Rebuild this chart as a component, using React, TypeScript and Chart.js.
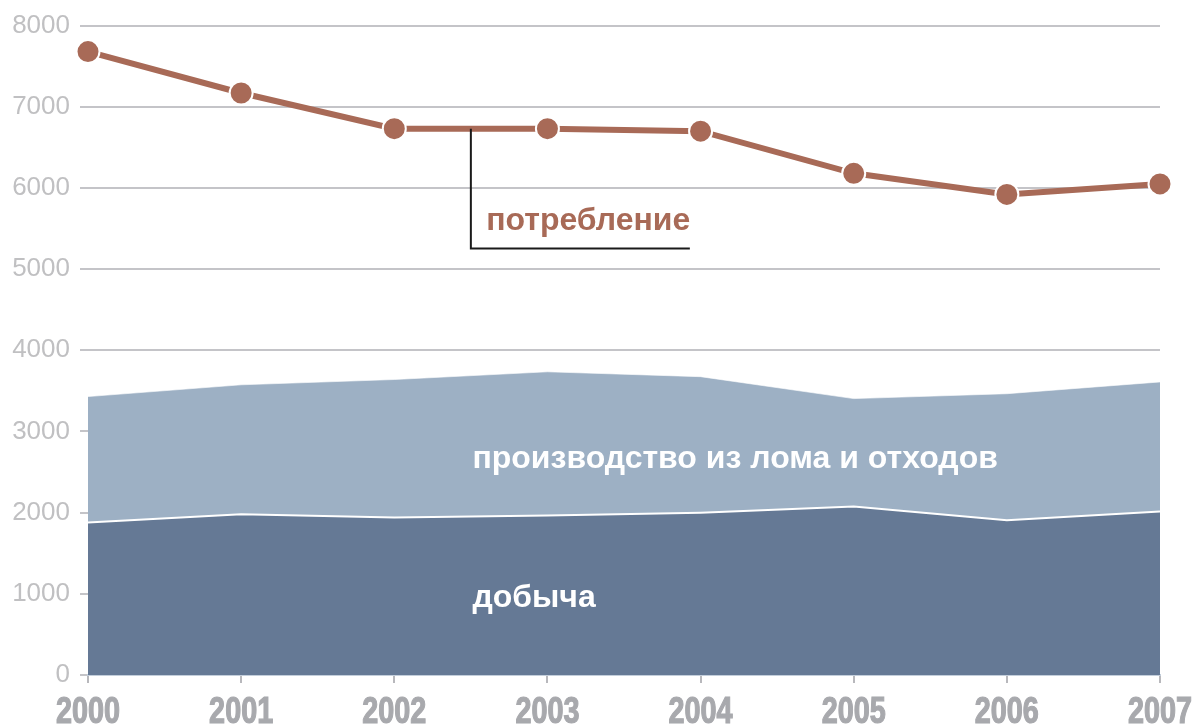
import React, { useEffect, useRef } from "react";
import { Chart, registerables } from "chart.js";

Chart.register(...registerables);

const years = [2000, 2001, 2002, 2003, 2004, 2005, 2006, 2007];
const mining = [1880, 1980, 1940, 1965, 2000, 2075, 1905, 2015];
const scrap = [1550, 1595, 1700, 1770, 1675, 1330, 1560, 1595];
const consumption = [7680, 7170, 6730, 6730, 6700, 6180, 5920, 6050];
const yTicks = [0, 1000, 2000, 3000, 4000, 5000, 6000, 7000, 8000];

const labelConsumption = "потребление";
const labelScrap = "производство из лома и отходов";
const labelMining = "добыча";

const COL_MINING = "#657995";
const COL_SCRAP = "#9db0c4";
const COL_LINE = "#a86a57";

const annotations = {
  id: "annotations",
  afterDatasetsDraw(chart: any) {
    const { ctx, scales } = chart;
    const x = scales.x;
    const y = scales.y;
    ctx.save();
    // bracket
    ctx.strokeStyle = "#1a1a1a";
    ctx.lineWidth = 2;
    ctx.beginPath();
    ctx.moveTo(x.getPixelForValue(2002.5), y.getPixelForValue(6730));
    ctx.lineTo(x.getPixelForValue(2002.5), y.getPixelForValue(5255));
    ctx.lineTo(x.getPixelForValue(2003.93), y.getPixelForValue(5255));
    ctx.stroke();
    ctx.textBaseline = "alphabetic";
    ctx.textAlign = "left";
    ctx.font = "bold 32px 'Liberation Sans', Arial, sans-serif";
    ctx.fillStyle = COL_LINE;
    ctx.fillText(labelConsumption, x.getPixelForValue(2002.6), y.getPixelForValue(5480));
    ctx.fillStyle = "#ffffff";
    ctx.fillText(labelScrap, x.getPixelForValue(2002.51), y.getPixelForValue(2545));
    ctx.fillText(labelMining, x.getPixelForValue(2002.51), y.getPixelForValue(835));
    ctx.restore();
  },
  afterDraw(chart: any) {
    const { ctx, scales } = chart;
    const x = scales.x;
    const base = x.top + 48;
    ctx.save();
    ctx.fillStyle = "#a8a9ad";
    ctx.strokeStyle = "#a8a9ad";
    ctx.lineWidth = 1.2;
    ctx.textAlign = "center";
    ctx.textBaseline = "alphabetic";
    ctx.font = "bold 36px 'Liberation Sans', Arial, sans-serif";
    years.forEach((yr) => {
      const px = x.getPixelForValue(yr);
      ctx.save();
      ctx.translate(px, base);
      ctx.scale(0.8, 1);
      ctx.fillText(String(yr), 0, 0);
      ctx.strokeText(String(yr), 0, 0);
      ctx.restore();
    });
    ctx.restore();
  },
};

export default function App() {
  const ref = useRef<HTMLCanvasElement>(null);
  useEffect(() => {
    document.body.style.margin = "0";
    const chart = new Chart(ref.current as HTMLCanvasElement, {
      type: "line",
      data: {
        datasets: [
          {
            label: labelConsumption,
            data: years.map((yr, i) => ({ x: yr, y: consumption[i] })),
            borderColor: COL_LINE,
            backgroundColor: COL_LINE,
            borderWidth: 6,
            pointRadius: 11.5,
            pointBorderColor: "#ffffff",
            pointBorderWidth: 2,
            pointBackgroundColor: COL_LINE,
            fill: false,
            stack: "line",
            order: 0,
            tension: 0,
            clip: false,
          },
          {
            label: labelMining,
            data: years.map((yr, i) => ({ x: yr, y: mining[i] })),
            borderColor: "#ffffff",
            borderWidth: 2,
            backgroundColor: COL_MINING,
            pointRadius: 0,
            fill: "origin",
            stack: "area",
            order: 1,
            tension: 0,
          },
          {
            label: labelScrap,
            data: years.map((yr, i) => ({ x: yr, y: scrap[i] })),
            borderColor: "rgba(255,255,255,0.6)",
            borderWidth: 1,
            backgroundColor: COL_SCRAP,
            pointRadius: 0,
            fill: "-1",
            stack: "area",
            order: 2,
            tension: 0,
          },
        ],
      },
      options: {
        animation: false,
        responsive: true,
        maintainAspectRatio: false,
        layout: { padding: { top: 24, right: 41, left: 0, bottom: 0 } },
        plugins: { legend: { display: false }, tooltip: { enabled: false } },
        scales: {
          x: {
            type: "linear",
            min: 2000,
            max: 2007,
            afterFit: (s: any) => {
              s.height = 52;
            },
            afterBuildTicks: (s: any) => {
              s.ticks = years.map((v) => ({ value: v }));
            },
            border: { display: true, color: "#c3cedb", width: 2 },
            grid: {
              drawOnChartArea: false,
              drawTicks: true,
              tickLength: 8,
              color: "#b8b8bc",
              lineWidth: 2,
            },
            ticks: { display: false },
          },
          y: {
            stacked: true,
            min: 0,
            max: 8000,
            afterFit: (s: any) => {
              s.width = 88;
            },
            afterBuildTicks: (s: any) => {
              s.ticks = yTicks.map((v) => ({ value: v }));
            },
            border: { display: false },
            grid: {
              color: "#c4c4c8",
              lineWidth: 2,
              drawTicks: true,
              tickLength: 8,
            },
            ticks: {
              padding: 10,
              color: "#c0c0c2",
              font: { family: "'Liberation Sans', Arial, sans-serif", size: 26 },
              callback: (v: any) => String(v),
            },
          },
        },
      },
      plugins: [annotations],
    } as any);
    return () => chart.destroy();
  }, []);
  return (
    <div style={{ position: "fixed", left: 0, top: 0, width: 1201, height: 727 }}>
      <canvas ref={ref} />
    </div>
  );
}
